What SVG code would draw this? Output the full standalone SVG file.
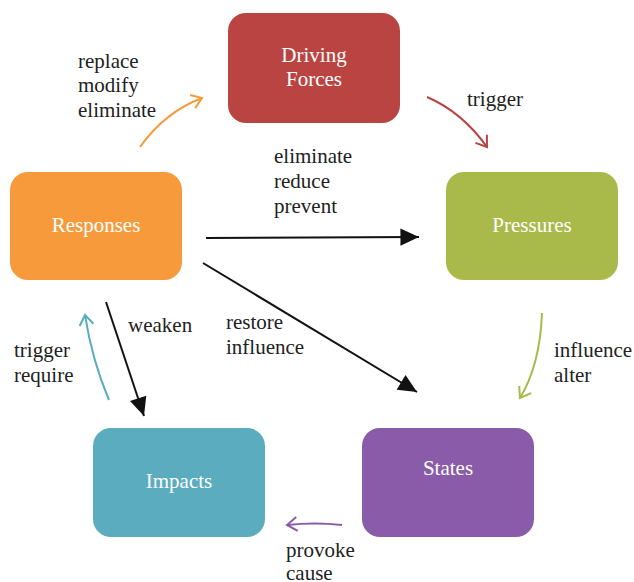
<svg xmlns="http://www.w3.org/2000/svg" width="634" height="582" viewBox="0 0 634 582">
<style>
.lbl{font-size:21px;fill:#222}
.nt{font-size:21px;fill:#fff;text-anchor:middle}
.c{fill:none;stroke-width:2}
</style>
<defs>
<marker id="mo" markerUnits="userSpaceOnUse" orient="auto" markerWidth="20" markerHeight="20" refX="10" refY="10" viewBox="0 0 20 20" overflow="visible"><path d="M0 3 L10 10 L0 17" fill="none" stroke="#F79A3C" stroke-width="2"/></marker>
<marker id="mr" markerUnits="userSpaceOnUse" orient="auto" markerWidth="20" markerHeight="20" refX="10" refY="10" viewBox="0 0 20 20" overflow="visible"><path d="M0 3 L10 10 L0 17" fill="none" stroke="#B94442" stroke-width="2"/></marker>
<marker id="mt" markerUnits="userSpaceOnUse" orient="auto" markerWidth="20" markerHeight="20" refX="10" refY="10" viewBox="0 0 20 20" overflow="visible"><path d="M0 3 L10 10 L0 17" fill="none" stroke="#5BACBF" stroke-width="2"/></marker>
<marker id="mg" markerUnits="userSpaceOnUse" orient="auto" markerWidth="20" markerHeight="20" refX="10" refY="10" viewBox="0 0 20 20" overflow="visible"><path d="M0 3 L10 10 L0 17" fill="none" stroke="#A9BA4A" stroke-width="2"/></marker>
<marker id="mp" markerUnits="userSpaceOnUse" orient="auto" markerWidth="20" markerHeight="20" refX="10" refY="10" viewBox="0 0 20 20" overflow="visible"><path d="M0 3 L10 10 L0 17" fill="none" stroke="#8A5BA8" stroke-width="2"/></marker>
<marker id="mb" markerUnits="userSpaceOnUse" orient="auto" markerWidth="20" markerHeight="20" refX="13" refY="6" viewBox="0 0 14 12" overflow="visible"><path d="M0 0 L13 6 L0 12 Z" fill="#111"/></marker>
</defs>
<g id="nodes" font-family="Liberation Serif, DejaVu Serif, serif">
<g id="driving"><rect x="228" y="13" width="172" height="110" rx="18" fill="#B94442"/><text class="nt" x="314" y="62">Driving</text><text class="nt" x="314" y="86">Forces</text></g>
<g id="pressures"><rect x="446" y="172" width="172" height="108" rx="18" fill="#A9BA4A"/><text class="nt" x="532" y="232">Pressures</text></g>
<g id="states"><rect x="362" y="428" width="172" height="109" rx="18" fill="#8A5BA8"/><text class="nt" x="448" y="475">States</text></g>
<g id="impacts"><rect x="93" y="428" width="172" height="109" rx="18" fill="#5BACBF"/><text class="nt" x="179" y="488">Impacts</text></g>
<g id="responses"><rect x="10" y="172" width="172" height="108" rx="18" fill="#F79A3C"/><text class="nt" x="96" y="232">Responses</text></g>
</g>
<g id="connectors">
<path class="c" d="M140 147 Q165 112 202 98" stroke="#F79A3C" marker-end="url(#mo)"/>
<path class="c" d="M427 97 Q462 112 487 147" stroke="#B94442" marker-end="url(#mr)"/>
<path class="c" d="M542 313 Q540 365 520 398" stroke="#A9BA4A" marker-end="url(#mg)"/>
<path class="c" d="M342 525 Q315 522 287 525" stroke="#8A5BA8" marker-end="url(#mp)"/>
<path class="c" d="M109 400 Q92 360 85 315" stroke="#5BACBF" marker-end="url(#mt)"/>
<path class="c" d="M206 238 L419 237" stroke="#111" marker-end="url(#mb)"/>
<path class="c" d="M203 263 L417 392" stroke="#111" marker-end="url(#mb)"/>
<path class="c" d="M106 302 L144 416" stroke="#111" marker-end="url(#mb)"/>
</g>
<g id="labels" font-family="Liberation Serif, DejaVu Serif, serif">
<text class="lbl" x="78" y="68">replace</text><text class="lbl" x="78" y="92">modify</text><text class="lbl" x="78" y="117">eliminate</text>
<text class="lbl" x="467" y="106">trigger</text>
<text class="lbl" x="274" y="163">eliminate</text><text class="lbl" x="274" y="188">reduce</text><text class="lbl" x="274" y="213">prevent</text>
<text class="lbl" x="128" y="332">weaken</text>
<text class="lbl" x="226" y="329">restore</text><text class="lbl" x="226" y="354">influence</text>
<text class="lbl" x="14" y="357">trigger</text><text class="lbl" x="14" y="382">require</text>
<text class="lbl" x="554" y="357">influence</text><text class="lbl" x="554" y="382">alter</text>
<text class="lbl" x="286" y="557">provoke</text><text class="lbl" x="286" y="580">cause</text>
</g>
</svg>
